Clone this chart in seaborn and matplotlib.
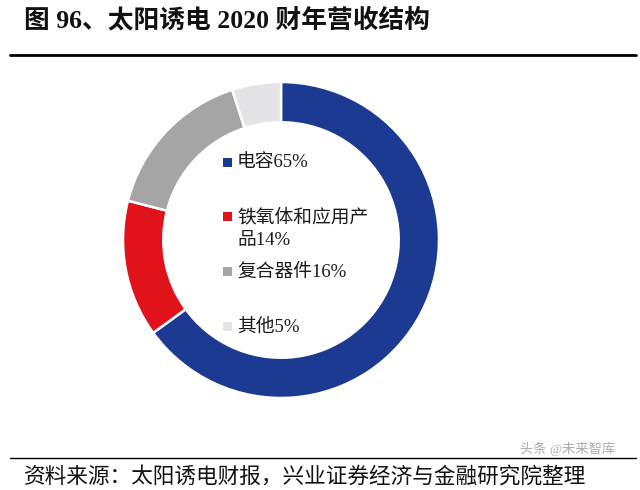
import matplotlib
matplotlib.use("Agg")
import matplotlib.pyplot as plt
import seaborn as sns
from matplotlib.patches import Rectangle
from matplotlib.lines import Line2D

# Data
categories = ["电容", "铁氧体和应用产品", "复合器件", "其他"]
shares = [65, 14, 16, 5]
legend_labels = ["电容65%", "铁氧体和应用产\n品14%", "复合器件16%", "其他5%"]
colors = ["#1c3a91", "#e0131b", "#a5a5a5", "#e4e4e6"]

TITLE = "图 96、太阳诱电 2020 财年营收结构"
SOURCE = "资料来源：太阳诱电财报，兴业证券经济与金融研究院整理"
WATERMARK = "头条 @未来智库"

sns.set_style("white")
plt.rcParams["font.family"] = ["Liberation Serif", "Noto Sans CJK SC", "DejaVu Sans"]

fig = plt.figure(figsize=(6.4, 4.9), dpi=100)

# Donut: centre ~ (281, 240) px, radius ~158 px
cx, cy, r = 281, 240, 158
ax = fig.add_axes([(cx - r) / 640, (490 - cy - r) / 490, 2 * r / 640, 2 * r / 490])
ax.pie(
    shares,
    colors=colors,
    startangle=90,
    counterclock=False,
    radius=1,
    wedgeprops=dict(width=0.255, edgecolor="white", linewidth=1.8),
)
ax.set_xlim(-1, 1)
ax.set_ylim(-1, 1)
ax.set_aspect("equal")
ax.axis("off")

# Legend placed inside the ring
legend_y = [163, 229, 272, 327]
for label, color, y in zip(legend_labels, colors, legend_y):
    first_line_y = y - 12 if "\n" in label else y
    fig.patches.append(
        Rectangle(
            (223 / 640, 1 - (first_line_y + 4) / 490),
            9 / 640,
            9 / 490,
            transform=fig.transFigure,
            facecolor=color,
            edgecolor="none",
        )
    )
    fig.text(
        237 / 640,
        1 - y / 490,
        label,
        fontsize=13.5,
        va="center",
        ha="left",
        linespacing=1.4,
        color="#1a1a1a",
    )

# Title and rules
fig.text(24 / 640, 1 - 20 / 490, TITLE, fontsize=18.5, fontweight="bold",
         va="center", ha="left", color="#111111")
fig.lines.append(Line2D([10 / 640, 636 / 640], [1 - 55 / 490, 1 - 55 / 490],
                        transform=fig.transFigure, color="black", linewidth=2))
fig.lines.append(Line2D([10 / 640, 636 / 640], [1 - 458 / 490, 1 - 458 / 490],
                        transform=fig.transFigure, color="black", linewidth=1))
fig.text(24 / 640, 1 - 477 / 490, SOURCE, fontsize=15.6, va="center", ha="left",
         color="#111111")
fig.text(520 / 640, 1 - 449 / 490, WATERMARK, fontsize=9.5, va="center", ha="left",
         color="#888888", alpha=0.7)

fig.savefig("out.png", dpi=100)
